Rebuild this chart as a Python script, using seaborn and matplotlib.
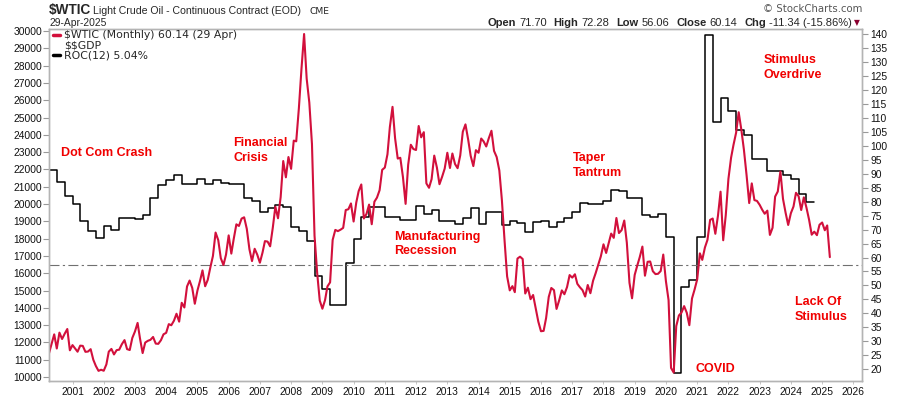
import numpy as np
import pandas as pd
import matplotlib
matplotlib.use("Agg")
import matplotlib.pyplot as plt
import matplotlib.dates as mdates
from matplotlib.lines import Line2D
import seaborn as sns

W, H = 900, 396

# $WTIC monthly closes, Apr 2000 .. Apr 2025 (right axis)
wtic_start = "2000-04-01"
wtic_close = [
    25.74, 29.01, 32.50, 27.43, 33.12, 30.84, 32.70, 34.42, 26.80,
    28.66, 27.39, 26.29, 28.46, 28.37, 26.25, 26.35, 27.20, 23.43, 21.18, 19.44, 19.84,
    19.48, 21.74, 26.31, 27.29, 25.31, 26.86, 27.02, 28.98, 30.45, 27.22, 26.89, 31.20,
    33.51, 36.60, 31.04, 25.80, 29.56, 30.19, 30.54, 31.57, 29.20, 29.11, 30.41, 32.52,
    33.05, 36.16, 35.76, 37.38, 39.88, 37.05, 43.80, 42.12, 49.64, 51.76, 49.13, 43.45,
    48.20, 51.75, 55.40, 49.72, 51.97, 56.50, 60.57, 68.94, 66.24, 59.76, 57.32, 61.04,
    67.92, 61.41, 66.63, 71.88, 71.29, 73.93, 74.40, 70.26, 62.91, 58.73, 63.13, 61.05,
    58.14, 61.79, 65.87, 65.71, 64.01, 70.68, 78.21, 74.04, 81.66, 94.53, 88.71, 95.98,
    91.75, 101.84, 101.58, 113.46, 127.35, 140.00, 124.08, 115.46, 100.64, 67.81, 54.43, 44.60,
    41.68, 44.76, 49.66, 51.12, 66.31, 69.89, 69.45, 69.96, 70.61, 77.00, 77.28, 79.36,
    72.89, 79.66, 83.76, 86.15, 73.97, 75.63, 78.95, 71.92, 79.97, 81.43, 84.11, 91.38,
    92.19, 96.97, 106.72, 113.93, 102.70, 95.42, 95.70, 88.81, 79.20, 93.19, 100.36, 98.83,
    98.48, 107.07, 103.02, 104.87, 86.53, 84.96, 88.06, 96.47, 92.19, 86.24, 88.91, 91.82,
    97.49, 92.05, 97.23, 93.46, 91.97, 96.56, 105.03, 107.65, 102.33, 96.38, 92.72, 98.42,
    97.49, 102.59, 101.58, 99.74, 102.71, 105.37, 98.17, 95.96, 91.16, 80.54, 66.15, 53.27,
    48.24, 49.76, 47.60, 59.63, 60.30, 59.47, 47.12, 49.20, 45.09, 46.59, 41.65, 37.04,
    33.62, 33.75, 38.34, 45.92, 49.10, 48.33, 41.60, 44.70, 48.24, 46.86, 49.44, 53.72,
    52.81, 54.01, 50.60, 49.33, 48.32, 46.04, 50.17, 47.23, 51.67, 54.38, 57.40, 60.42,
    64.73, 61.64, 64.94, 68.57, 67.04, 74.15, 68.76, 69.80, 73.25, 65.31, 50.93, 45.41,
    53.79, 57.22, 60.14, 63.91, 53.50, 58.47, 58.58, 55.10, 54.07, 54.18, 55.17, 61.06,
    51.56, 44.76, 20.48, 18.84, 35.49, 39.27, 40.27, 42.61, 40.22, 35.79, 45.34, 48.52,
    52.20, 61.50, 59.16, 63.58, 66.32, 73.47, 73.95, 68.50, 75.03, 83.57, 66.18, 75.21,
    88.15, 95.72, 100.28, 104.69, 112.00, 105.76, 98.62, 89.55, 79.49, 86.53, 80.55, 80.26,
    78.87, 77.05, 75.67, 76.78, 68.09, 70.64, 81.80, 83.63, 90.79, 81.02, 75.96, 71.65,
    75.85, 78.26, 83.17, 81.93, 76.99, 81.54, 77.91, 73.55, 68.17, 69.26, 68.00, 71.72,
    72.53, 69.76, 71.48, 60.14,
]

# ROC(12) of $$GDP, quarterly steps Q2 2000 .. Q3 2024, read in left-axis units
roc_start = "2000Q2"
roc_values = [
    21970, 21255, 20460,
    19980, 19000, 18440, 18020,
    18730, 18480, 19170, 19170,
    19115, 19360, 20330, 21100,
    21390, 21680, 21140, 21140,
    21430, 21140, 21390, 21230,
    21170, 21150, 20330, 20175,
    19560, 19750, 19940, 19800,
    18690, 18440, 17860, 15820,
    15070, 14140, 14180, 16570,
    17960, 19270, 19850, 19850,
    19270, 19270, 19080, 19080,
    19890, 19420, 19650, 19020,
    19020, 18830, 19170, 19750,
    18840, 19560, 19560, 18760,
    19040, 18900, 18400, 18980,
    19040, 18650, 18940, 19170,
    19560, 20080, 20000, 20000,
    20190, 20810, 20750, 20330,
    20330, 19360, 19250, 19440,
    18080, 10250, 15200, 15620,
    18080, 29770, 24760, 26110,
    25390, 24280, 23990, 22580,
    22580, 21910, 21910, 21680,
    21430, 20580, 20130,
]
roc_end = "2024-10-01"

left_ticks = list(range(10000, 30001, 1000))
right_ticks = list(range(20, 141, 5))
zero_line = 16500

RED_LINE = "#d2103c"
RED_TXT = "#f00000"
GREY = "#b4b4b4"


def px(x, y):
    return x / W, 1 - y / H


def main():
    sns.set_theme(style="white")
    plt.rcParams["font.family"] = ["Liberation Sans", "DejaVu Sans"]
    plt.rcParams["text.parse_math"] = False

    wtic = pd.DataFrame({
        "date": pd.date_range(wtic_start, periods=len(wtic_close), freq="MS"),
        "close": wtic_close,
    })
    qdates = pd.period_range(roc_start, periods=len(roc_values), freq="Q").to_timestamp(how="start")
    roc = pd.DataFrame({
        "date": list(qdates) + [pd.Timestamp(roc_end)],
        "roc": roc_values + [roc_values[-1]],
    })

    fig = plt.figure(figsize=(W / 100, H / 100), dpi=100)
    ax = fig.add_axes([49 / W, 15 / H, 813 / W, 352 / H])

    sns.lineplot(data=roc, x="date", y="roc", ax=ax, color="black", lw=1.1,
                 drawstyle="steps-post", estimator=None)
    ax.axhline(zero_line, color="#707070", lw=0.8, dashes=(9, 3, 2, 3))

    ax2 = ax.twinx()
    sns.lineplot(data=wtic, x="date", y="close", ax=ax2, color=RED_LINE, lw=1.5, estimator=None)

    ax.set_xlim(pd.Timestamp("2000-04-01"), pd.Timestamp("2026-04-12"))
    ax.set_ylim(9769, 30116)
    ax2.set_ylim(15.81, 141.79)
    ax.set_yticks(left_ticks)
    ax2.set_yticks(right_ticks)
    ax.xaxis.set_major_locator(mdates.YearLocator())
    ax.xaxis.set_major_formatter(mdates.DateFormatter("%Y"))
    for a in (ax, ax2):
        a.set_xlabel("")
        a.set_ylabel("")
        for s in a.spines.values():
            s.set_color(GREY)
            s.set_linewidth(1.0)
    ax.tick_params(axis="y", left=True, length=4, width=0.8, color="#999999",
                   labelsize=7.4, pad=1, labelcolor="#111111")
    ax2.tick_params(axis="y", right=True, length=4, width=0.8, color="#999999",
                    labelsize=7.4, pad=2, labelcolor="#111111")
    ax.tick_params(axis="x", bottom=True, length=2, width=0.6, color="#bbbbbb",
                   labelsize=7.4, pad=2, labelcolor="#111111")

    # header
    fig.text(*px(49, 14), "$WTIC", fontsize=9.8, fontweight="bold", va="baseline")
    fig.text(*px(93, 14), "Light Crude Oil - Continuous Contract (EOD)", fontsize=7.6, va="baseline")
    fig.text(*px(309, 14), "CME", fontsize=6.6, family="DejaVu Sans", va="baseline")
    fig.text(*px(49, 25.5), "29-Apr-2025", fontsize=7.4, va="baseline")
    fig.text(*px(862, 12), "\u00a9 StockCharts.com", fontsize=7.3, color="#555555",
             family="DejaVu Sans", ha="right", va="baseline")

    parts = [("Open", "bold", 3), ("71.70", "normal", 7), ("High", "bold", 3),
             ("72.28", "normal", 7), ("Low", "bold", 3), ("56.06", "normal", 7),
             ("Close", "bold", 3), ("60.14", "normal", 7), ("Chg", "bold", 3),
             ("-11.34 (-15.86%)", "normal", 0)]
    renderer = fig.canvas.get_renderer()
    texts = []
    total = 0
    for s, wgt, gap in parts:
        t = fig.text(0, 0, s, fontsize=8, fontweight=wgt, va="baseline")
        w = t.get_window_extent(renderer).width
        texts.append((t, w, gap))
        total += w + gap
    x = 852 - total
    for t, w, gap in texts:
        t.set_position(px(x, 26))
        x += w + gap
    fig.text(*px(857, 25), "\u25bc", fontsize=5.5, color="#8b0030", family="DejaVu Sans",
             ha="center", va="baseline")

    # legend
    fig.add_artist(Line2D([53 / W, 60 / W], [1 - 35 / H] * 2, color=RED_LINE, lw=2.5))
    fig.add_artist(Line2D([53 / W, 60 / W], [1 - 55 / H] * 2, color="black", lw=2.5))
    leg = dict(fontsize=7.8, family="DejaVu Sans", va="center")
    fig.text(*px(64, 35), "$WTIC (Monthly) 60.14 (29 Apr)", **leg)
    fig.text(*px(64, 45), "$$GDP", **leg)
    fig.text(*px(64, 55), "ROC(12) 5.04%", **leg)

    # annotations
    ann = dict(fontsize=9, fontweight="bold", color=RED_TXT, va="baseline")
    fig.text(*px(61, 156), "Dot Com Crash", **ann)
    fig.text(*px(233, 146), "Financial", **ann)
    fig.text(*px(233, 161), "Crisis", **ann)
    fig.text(*px(394, 240), "Manufacturing", **ann)
    fig.text(*px(394, 254), "Recession", **ann)
    fig.text(*px(573, 161), "Taper", **ann)
    fig.text(*px(573, 176), "Tantrum", **ann)
    fig.text(*px(764, 63), "Stimulus", **ann)
    fig.text(*px(764, 78), "Overdrive", **ann)
    fig.text(*px(795, 305), "Lack Of", **ann)
    fig.text(*px(795, 320), "Stimulus", **ann)
    fig.text(*px(696, 371.5), "COVID", **ann)

    fig.savefig("out.png", dpi=100)
    plt.close(fig)


if __name__ == "__main__":
    main()
